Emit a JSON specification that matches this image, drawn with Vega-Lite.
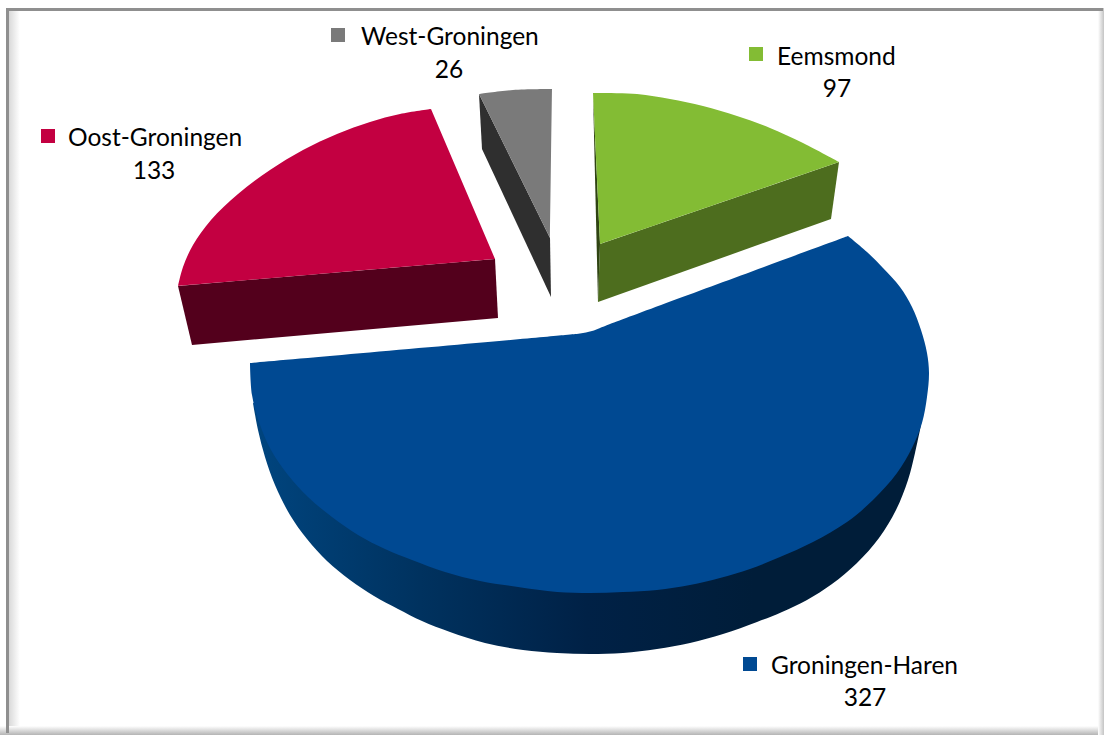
{
"$schema":"https://vega.github.io/schema/vega-lite/v6.json",
"width":1104,"height":735,"padding":0,"autosize":{"type":"none"},"background":"white",
"view":{"stroke":null},
"datasets":{
"frame":[{"side":"top","a":6,"b":1103,"c":8,"d":11},{"side":"left","a":6,"b":9,"c":8,"d":733}],
"labels":[
{"name":"Groningen-Haren","value":327,"mx":750,"my":664,"tx":771,"ty":666.5,"vx":865,"vy":698.5},
{"name":"Eemsmond","value":97,"mx":756,"my":54,"tx":777,"ty":57.5,"vx":837,"vy":89.5},
{"name":"Oost-Groningen","value":133,"mx":48,"my":136,"tx":68,"ty":138.5,"vx":154,"vy":171.5},
{"name":"West-Groningen","value":26,"mx":338,"my":35,"tx":361,"ty":37.5,"vx":449,"vy":70.5}
],
"sides":[
{"s":"Oost-Groningen side","i":1,"x":178,"y":286},{"s":"Oost-Groningen side","i":2,"x":495,"y":259},{"s":"Oost-Groningen side","i":3,"x":498,"y":318},{"s":"Oost-Groningen side","i":4,"x":192,"y":345},
{"s":"West-Groningen side","i":1,"x":479,"y":94},{"s":"West-Groningen side","i":2,"x":550,"y":238},{"s":"West-Groningen side","i":3,"x":551,"y":297},{"s":"West-Groningen side","i":4,"x":482,"y":149},
{"s":"Eemsmond side","i":1,"x":839,"y":162},{"s":"Eemsmond side","i":2,"x":600,"y":244},{"s":"Eemsmond side","i":3,"x":598,"y":302},{"s":"Eemsmond side","i":4,"x":831,"y":219},
{"s":"Eemsmond edge","i":1,"x":593,"y":93},{"s":"Eemsmond edge","i":2,"x":600,"y":244},{"s":"Eemsmond edge","i":3,"x":598,"y":302}
],
"blueSide":[
{"i":1,"x":253,"y":403},{"i":2,"x":258,"y":430},{"i":3,"x":265,"y":457},{"i":4,"x":275,"y":485},{"i":5,"x":290,"y":515},{"i":6,"x":307,"y":539},{"i":7,"x":327,"y":561},{"i":8,"x":350,"y":580},{"i":9,"x":374,"y":596},{"i":10,"x":398,"y":609},{"i":11,"x":422,"y":621},{"i":12,"x":450,"y":632},{"i":13,"x":485,"y":643},{"i":14,"x":523,"y":650},{"i":15,"x":557,"y":653},{"i":16,"x":590,"y":654},{"i":17,"x":623,"y":653},{"i":18,"x":657,"y":649},{"i":19,"x":690,"y":643},{"i":20,"x":723,"y":634},{"i":21,"x":757,"y":622},{"i":22,"x":782,"y":612},{"i":23,"x":807,"y":600},{"i":24,"x":832,"y":584},{"i":25,"x":857,"y":563},{"i":26,"x":879,"y":538},{"i":27,"x":896,"y":510},{"i":28,"x":908,"y":480},{"i":29,"x":915,"y":453},{"i":30,"x":921,"y":425},{"i":31,"x":921,"y":425},{"i":32,"x":590,"y":500},{"i":33,"x":590,"y":500}
],
"tops":[
{"s":"Oost-Groningen","i":1,"x":431,"y":109},{"s":"Oost-Groningen","i":2,"x":400,"y":114},{"s":"Oost-Groningen","i":3,"x":370,"y":122},{"s":"Oost-Groningen","i":4,"x":337,"y":134},{"s":"Oost-Groningen","i":5,"x":303,"y":150},{"s":"Oost-Groningen","i":6,"x":270,"y":170},{"s":"Oost-Groningen","i":7,"x":238,"y":194},{"s":"Oost-Groningen","i":8,"x":211,"y":220},{"s":"Oost-Groningen","i":9,"x":193,"y":245},{"s":"Oost-Groningen","i":10,"x":183,"y":267},{"s":"Oost-Groningen","i":11,"x":178,"y":286},{"s":"Oost-Groningen","i":12,"x":178,"y":286},{"s":"Oost-Groningen","i":13,"x":495,"y":259},{"s":"Oost-Groningen","i":14,"x":495,"y":259},
{"s":"West-Groningen","i":1,"x":479,"y":94},{"s":"West-Groningen","i":2,"x":513,"y":90},{"s":"West-Groningen","i":3,"x":552,"y":89},{"s":"West-Groningen","i":4,"x":552,"y":89},{"s":"West-Groningen","i":5,"x":550,"y":238},
{"s":"Eemsmond","i":1,"x":593,"y":93},{"s":"Eemsmond","i":2,"x":637,"y":94},{"s":"Eemsmond","i":3,"x":670,"y":99},{"s":"Eemsmond","i":4,"x":703,"y":106},{"s":"Eemsmond","i":5,"x":737,"y":116},{"s":"Eemsmond","i":6,"x":770,"y":128},{"s":"Eemsmond","i":7,"x":803,"y":143},{"s":"Eemsmond","i":8,"x":839,"y":162},{"s":"Eemsmond","i":9,"x":839,"y":162},{"s":"Eemsmond","i":10,"x":600,"y":244},
{"s":"Groningen-Haren","i":1,"x":250,"y":363},{"s":"Groningen-Haren","i":2,"x":250,"y":363},{"s":"Groningen-Haren","i":3,"x":565,"y":335},{"s":"Groningen-Haren","i":4,"x":580,"y":333.5},{"s":"Groningen-Haren","i":5,"x":592,"y":331},{"s":"Groningen-Haren","i":6,"x":610,"y":324},{"s":"Groningen-Haren","i":7,"x":848,"y":236},{"s":"Groningen-Haren","i":8,"x":848,"y":236},{"s":"Groningen-Haren","i":9,"x":867,"y":252},{"s":"Groningen-Haren","i":10,"x":883,"y":268},{"s":"Groningen-Haren","i":11,"x":900,"y":287},{"s":"Groningen-Haren","i":12,"x":912,"y":307},{"s":"Groningen-Haren","i":13,"x":921,"y":330},{"s":"Groningen-Haren","i":14,"x":927,"y":353},{"s":"Groningen-Haren","i":15,"x":929,"y":373},{"s":"Groningen-Haren","i":16,"x":927,"y":397},{"s":"Groningen-Haren","i":17,"x":922,"y":423},{"s":"Groningen-Haren","i":18,"x":912,"y":448},{"s":"Groningen-Haren","i":19,"x":897,"y":473},{"s":"Groningen-Haren","i":20,"x":873,"y":500},{"s":"Groningen-Haren","i":21,"x":847,"y":522},{"s":"Groningen-Haren","i":22,"x":813,"y":542},{"s":"Groningen-Haren","i":23,"x":780,"y":557},{"s":"Groningen-Haren","i":24,"x":750,"y":569},{"s":"Groningen-Haren","i":25,"x":720,"y":578},{"s":"Groningen-Haren","i":26,"x":690,"y":585},{"s":"Groningen-Haren","i":27,"x":657,"y":590},{"s":"Groningen-Haren","i":28,"x":623,"y":592},{"s":"Groningen-Haren","i":29,"x":590,"y":593},{"s":"Groningen-Haren","i":30,"x":557,"y":592},{"s":"Groningen-Haren","i":31,"x":518,"y":587},{"s":"Groningen-Haren","i":32,"x":480,"y":581},{"s":"Groningen-Haren","i":33,"x":445,"y":572},{"s":"Groningen-Haren","i":34,"x":412,"y":560},{"s":"Groningen-Haren","i":35,"x":385,"y":549},{"s":"Groningen-Haren","i":36,"x":358,"y":535},{"s":"Groningen-Haren","i":37,"x":332,"y":517},{"s":"Groningen-Haren","i":38,"x":308,"y":497},{"s":"Groningen-Haren","i":39,"x":288,"y":475},{"s":"Groningen-Haren","i":40,"x":271,"y":450},{"s":"Groningen-Haren","i":41,"x":259,"y":422},{"s":"Groningen-Haren","i":42,"x":252,"y":395},{"s":"Groningen-Haren","i":43,"x":250,"y":363},{"s":"Groningen-Haren","i":44,"x":250,"y":363}
]
},
"layer":[
{"data":{"values":[{"a":6,"b":20,"c":8,"d":733}]},"mark":{"type":"rect","fill":{"gradient":"linear","x1":0,"x2":1,"y1":0,"y2":0,"stops":[{"offset":0,"color":"#cfcfcf"},{"offset":1,"color":"#ffffff"}]}},
"encoding":{"x":{"field":"a","type":"quantitative","scale":{"domain":[0,1104],"nice":false,"zero":false},"axis":null},"x2":{"field":"b"},"y":{"field":"c","type":"quantitative","scale":{"domain":[735,0],"nice":false,"zero":false},"axis":null},"y2":{"field":"d"}}},
{"data":{"values":[{"a":0,"b":1104,"c":726,"d":735}]},"mark":{"type":"rect","fill":{"gradient":"linear","x1":0,"x2":0,"y1":0,"y2":1,"stops":[{"offset":0,"color":"#ffffff"},{"offset":1,"color":"#b4b4b4"}]}},
"encoding":{"x":{"field":"a","type":"quantitative","axis":null},"x2":{"field":"b"},"y":{"field":"c","type":"quantitative","axis":null},"y2":{"field":"d"}}},
{"data":{"values":[{"a":1098,"b":1104,"c":8,"d":735}]},"mark":{"type":"rect","fill":{"gradient":"linear","x1":0,"x2":1,"y1":0,"y2":0,"stops":[{"offset":0,"color":"#ffffff"},{"offset":1,"color":"#c4c4c4"}]}},
"encoding":{"x":{"field":"a","type":"quantitative","axis":null},"x2":{"field":"b"},"y":{"field":"c","type":"quantitative","axis":null},"y2":{"field":"d"}}},
{"data":{"name":"frame"},"mark":{"type":"rect","fill":"#8f8f8f"},
"encoding":{"x":{"field":"a","type":"quantitative","axis":null},"x2":{"field":"b"},"y":{"field":"c","type":"quantitative","axis":null},"y2":{"field":"d"}}},
{"data":{"name":"blueSide"},"mark":{"type":"line","interpolate":"catmull-rom","stroke":null,"fill":{"gradient":"linear","x1":0,"x2":1,"y1":0,"y2":0,"stops":[{"offset":0,"color":"#00457f"},{"offset":0.25,"color":"#00325f"},{"offset":0.5,"color":"#002146"},{"offset":0.75,"color":"#001d39"},{"offset":1,"color":"#001d39"}]}},
"encoding":{"x":{"field":"x","type":"quantitative","axis":null},"y":{"field":"y","type":"quantitative","axis":null},"order":{"field":"i","type":"quantitative"}}},
{"data":{"name":"sides"},"mark":{"type":"line","stroke":null},
"encoding":{"x":{"field":"x","type":"quantitative","axis":null},"y":{"field":"y","type":"quantitative","axis":null},"order":{"field":"i","type":"quantitative"},"detail":{"field":"s"},
"fill":{"field":"s","type":"nominal","legend":null,"scale":{"domain":["Oost-Groningen side","West-Groningen side","Eemsmond side","Eemsmond edge"],"range":["#53001c","#2f2f2f","#4d6d1e","#2f4412"]}}}},
{"data":{"name":"tops"},"mark":{"type":"line","interpolate":"catmull-rom","stroke":null},
"encoding":{"x":{"field":"x","type":"quantitative","axis":null},"y":{"field":"y","type":"quantitative","axis":null},"order":{"field":"i","type":"quantitative"},"detail":{"field":"s"},
"fill":{"field":"s","type":"nominal","legend":null,"scale":{"domain":["Groningen-Haren","Eemsmond","Oost-Groningen","West-Groningen"],"range":["#004992","#83bc34","#c30041","#7a7a7a"]}}}},
{"data":{"name":"labels"},"mark":{"type":"point","shape":"square","filled":true,"size":196,"opacity":1},
"encoding":{"x":{"field":"mx","type":"quantitative","axis":null},"y":{"field":"my","type":"quantitative","axis":null},
"color":{"field":"name","type":"nominal","legend":null,"scale":{"domain":["Groningen-Haren","Eemsmond","Oost-Groningen","West-Groningen"],"range":["#004992","#83bc34","#c30041","#7a7a7a"]}}}},
{"data":{"name":"labels"},"mark":{"type":"text","align":"left","baseline":"middle","font":"Lato","fontSize":24.5,"color":"#000000"},
"encoding":{"x":{"field":"tx","type":"quantitative","axis":null},"y":{"field":"ty","type":"quantitative","axis":null},"text":{"field":"name"}}},
{"data":{"name":"labels"},"mark":{"type":"text","align":"center","baseline":"middle","font":"Lato","fontSize":24.5,"color":"#000000"},
"encoding":{"x":{"field":"vx","type":"quantitative","axis":null},"y":{"field":"vy","type":"quantitative","axis":null},"text":{"field":"value","type":"quantitative"}}}
],
"resolve":{"scale":{"fill":"independent","color":"independent"}}
}
